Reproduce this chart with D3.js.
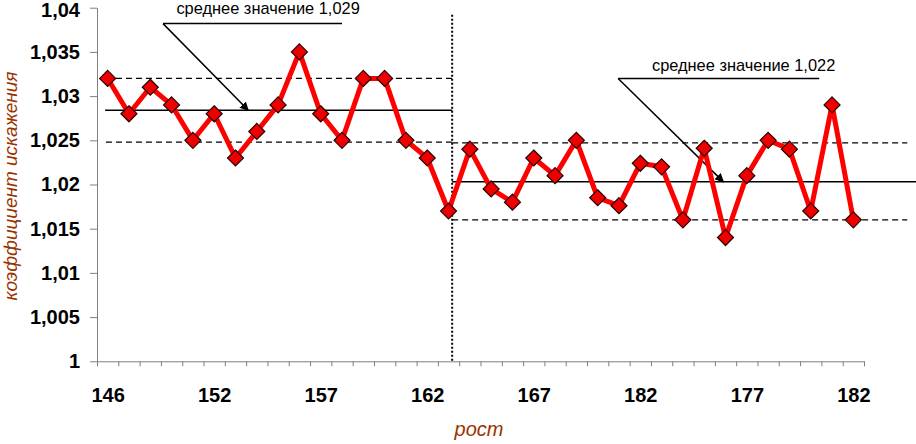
<!DOCTYPE html>
<html>
<head>
<meta charset="utf-8">
<script src="https://cdn.jsdelivr.net/npm/d3@7"></script>
<style>
  body { margin: 0; background: #fff; }
  svg { display: block; }
</style>
</head>
<body>
<div id="chart"></div>
<script>
// data
var values = [1.032, 1.028, 1.031, 1.029, 1.025, 1.028, 1.023, 1.026, 1.029, 1.035, 1.028, 1.025,
	1.032, 1.032, 1.025, 1.023, 1.017,
	1.024, 1.0195, 1.018, 1.023, 1.021, 1.025, 1.0185, 1.0176, 1.0224, 1.022, 1.016, 1.0241,
	1.014, 1.021, 1.025, 1.024, 1.017, 1.029, 1.016];
var xTickLabels = ['146', '152', '157', '162', '167', '182', '177', '182'];
var yTicks = [1, 1.005, 1.01, 1.015, 1.02, 1.025, 1.03, 1.035, 1.04];

// group lines: mean (solid) and bounds (dashed), x in category units
var groupLines = [
	{ from: -0.12, to: 16.17, v: 1.0284, dash: false },
	{ from: -0.08, to: 16.17, v: 1.032, dash: true },
	{ from: -0.08, to: 16.17, v: 1.0248, dash: true },
	{ from: 16.17, to: 37.95, v: 1.0203, dash: false },
	{ from: 16.17, to: 37.53, v: 1.0247, dash: true },
	{ from: 16.17, to: 37.53, v: 1.016, dash: true }
];
var divider = { at: 16.17, top: 1.0392 };
var notes = [
	{ text: 'среднее значение 1,029', tx: 7.53, ty: 1.0393, u0: 2.6, u1: 11.0, uy: 1.0382, px: 6.6, py: 1.0284 },
	{ text: 'среднее значение 1,022', tx: 29.85, ty: 1.0328, u0: 23.96, u1: 33.4, uy: 1.0320, px: 28.9, py: 1.0203 }
];

var W = 916, H = 444;
var svg = d3.select('#chart').append('svg').attr('width', W).attr('height', H);

var x = d3.scaleLinear().domain([-0.5, 35.5]).range([97, 864]);
var y = d3.scaleLinear().domain([1, 1.04]).range([361.3, 7.7]);

var font = 'Arial, "Liberation Sans", sans-serif';

// y axis
var yAxis = svg.append('g')
	.attr('transform', 'translate(' + x(-0.5) + ',0)')
	.call(d3.axisLeft(y).tickValues(yTicks).tickSize(7).tickSizeOuter(0)
		.tickFormat(function(d) { return d3.format('.3~f')(d).replace('.', ','); }));
yAxis.selectAll('path, line').attr('stroke', '#808080');
yAxis.selectAll('text')
	.attr('x', -17)
	.attr('dy', function(d) { return d === 1.04 ? '0.42em' : '0.32em'; })
	.style('font-family', font).style('font-size', '20px').style('font-weight', 'bold').attr('fill', '#000');

// x axis: ticks between categories
var xAxis = svg.append('g')
	.attr('transform', 'translate(0,' + y(1) + ')')
	.call(d3.axisBottom(x).tickValues(d3.range(-0.5, 36, 1)).tickSize(5).tickSizeOuter(0).tickFormat(''));
xAxis.selectAll('path, line').attr('stroke', '#808080');

var xLab = svg.append('g')
	.attr('transform', 'translate(0,' + y(1) + ')')
	.call(d3.axisBottom(x).tickValues(d3.range(0, 36, 5)).tickSize(0)
		.tickFormat(function(d) { return xTickLabels[d / 5]; }));
xLab.select('.domain').remove();
xLab.selectAll('text')
	.attr('y', 27)
	.style('font-family', font).style('font-size', '20px').style('font-weight', 'bold').attr('fill', '#000');

// axis titles
svg.append('text')
	.attr('transform', 'translate(17,186) rotate(-90)')
	.attr('text-anchor', 'middle')
	.style('font-family', font).style('font-size', '19px').style('font-style', 'italic')
	.attr('fill', '#993300')
	.text('коэффициент искажения');
svg.append('text')
	.attr('x', 479).attr('y', 436)
	.attr('text-anchor', 'middle')
	.style('font-family', font).style('font-size', '20px').style('font-style', 'italic')
	.attr('fill', '#993300')
	.text('рост');

// mean and bound lines
svg.append('g').selectAll('line').data(groupLines).join('line')
	.attr('x1', function(d) { return x(d.from); })
	.attr('x2', function(d) { return x(d.to); })
	.attr('y1', function(d) { return y(d.v); })
	.attr('y2', function(d) { return y(d.v); })
	.attr('stroke', '#000')
	.attr('stroke-width', function(d) { return d.dash ? 1.3 : 1.5; })
	.attr('stroke-dasharray', function(d) { return d.dash ? '6,4' : null; });

// dotted divider
svg.append('line')
	.attr('x1', x(divider.at)).attr('x2', x(divider.at))
	.attr('y1', y(divider.top)).attr('y2', y(1))
	.attr('stroke', '#000').attr('stroke-width', 2).attr('stroke-dasharray', '2,2');

// annotations
svg.append('defs').append('marker')
	.attr('id', 'arrow')
	.attr('viewBox', '0 0 10 10').attr('refX', 9).attr('refY', 5)
	.attr('markerWidth', 9).attr('markerHeight', 9).attr('orient', 'auto')
	.attr('markerUnits', 'userSpaceOnUse')
	.append('path').attr('d', 'M0,0 L10,5 L0,10 Z').attr('fill', '#000');

var ng = svg.append('g');
notes.forEach(function(n) {
	ng.append('text')
		.attr('x', x(n.tx)).attr('y', y(n.ty))
		.attr('text-anchor', 'middle')
		.style('font-family', font).style('font-size', '16.4px')
		.attr('fill', '#000')
		.text(n.text);
	ng.append('line')
		.attr('x1', x(n.u0)).attr('x2', x(n.u1))
		.attr('y1', y(n.uy)).attr('y2', y(n.uy))
		.attr('stroke', '#000').attr('stroke-width', 1.5);
	ng.append('line')
		.attr('x1', x(n.u0)).attr('y1', y(n.uy))
		.attr('x2', x(n.px)).attr('y2', y(n.py))
		.attr('stroke', '#000').attr('stroke-width', 1.5)
		.attr('marker-end', 'url(#arrow)');
});

// series line
svg.append('path')
	.datum(values)
	.attr('fill', 'none')
	.attr('stroke', '#ff0000')
	.attr('stroke-width', 5)
	.attr('stroke-linejoin', 'round')
	.attr('d', d3.line().x(function(d, i) { return x(i); }).y(function(d) { return y(d); }));

// diamond markers
svg.append('g').selectAll('path').data(values).join('path')
	.attr('transform', function(d, i) { return 'translate(' + x(i) + ',' + y(d) + ')'; })
	.attr('d', 'M0,-8L8,0L0,8L-8,0Z')
	.attr('fill', '#ee0000')
	.attr('stroke', '#2a0000')
	.attr('stroke-width', 1.2);
</script>
</body>
</html>
